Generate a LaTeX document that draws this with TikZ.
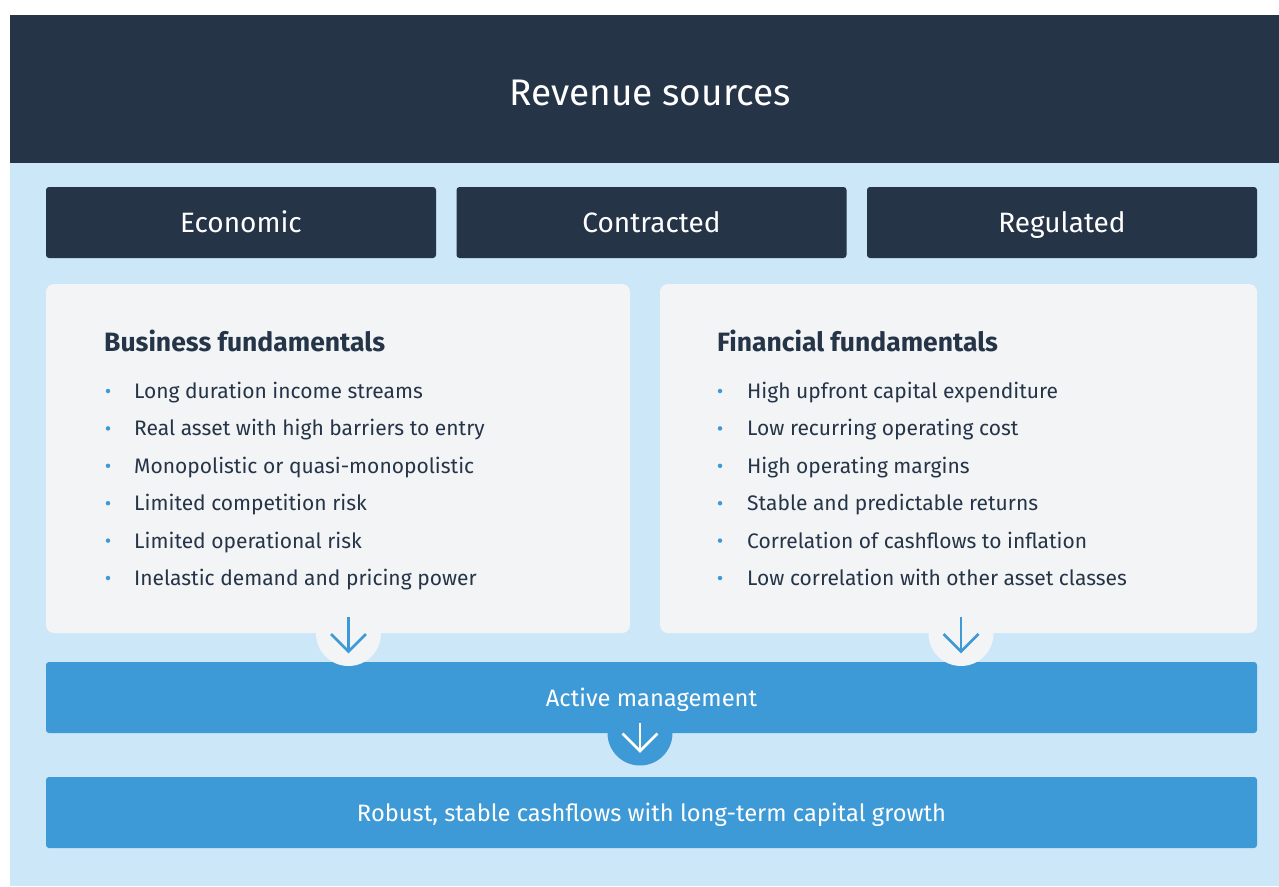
\documentclass[tikz,border=0pt]{standalone}
\usepackage{fontspec}
\setmainfont{Fira Sans}

\definecolor{navy}{HTML}{253447}
\definecolor{skyback}{HTML}{CCE7F8}
\definecolor{panelgrey}{HTML}{F2F4F6}
\definecolor{barblue}{HTML}{3D9AD6}

\tikzset{
  catbox/.style={fill=navy, rounded corners=3pt, text=white, inner sep=0pt,
    minimum width=390pt, minimum height=71pt, text height=20pt, text depth=0pt,
    font=\fontsize{28}{32}\selectfont},
  panel/.style={fill=panelgrey, rounded corners=8pt, inner sep=0pt, minimum height=349pt},
  bar/.style={fill=barblue, rounded corners=3pt, text=white, inner sep=0pt,
    minimum width=1211pt, minimum height=71pt, text height=17pt, text depth=0pt,
    font=\fontsize{23.7}{28}\selectfont},
  head/.style={anchor=west, text=navy, inner sep=0pt, text height=18pt, text depth=0pt,
    font=\fontsize{26.5}{31}\selectfont\bfseries},
  item/.style={anchor=west, text=navy, inner sep=0pt, text height=15pt, text depth=0pt,
    font=\fontsize{21}{25}\selectfont},
  dot/.style={circle, fill=barblue, inner sep=0pt, minimum size=4.5pt},
  knob/.style={circle, inner sep=0pt, minimum size=65pt},
  arrowline/.style={line width=2.6pt, line join=miter}
}

\begin{document}
\begin{tikzpicture}[x=1pt,y=-1pt]
\useasboundingbox (0,0) rectangle (1279,886);
% background and title
\fill[skyback] (10,163) rectangle (1279,886);
\fill[navy] (10,15) rectangle (1279,163);
\node[text=white, inner sep=0pt, text height=27pt, text depth=0pt,
  font=\fontsize{37}{44}\selectfont] (title) at (650,92) {Revenue sources};

% revenue categories
\node[catbox] (econ) at (241,222.5) {Economic};
\node[catbox] (contr) at (651.5,222.5) {Contracted};
\node[catbox] (regul) at (1062,222.5) {Regulated};

% fundamentals
\node[panel, minimum width=584pt] (busp) at (338,458.5) {};
\node[panel, minimum width=597pt] (finp) at (958.5,458.5) {};
\node[head] (bush) at (104,342) {Business fundamentals};
\node[head] (finh) at (717,342) {Financial fundamentals};

\foreach \txt [count=\i] in {Long duration income streams,
    Real asset with high barriers to entry,
    Monopolistic or quasi-monopolistic,
    Limited competition risk,
    Limited operational risk,
    Inelastic demand and pricing power} {
  \node[dot] (bd\i) at (108,{391+37.4*(\i-1)}) {};
  \node[item] (bi\i) at (134,{391+37.4*(\i-1)}) {\txt};
}
\foreach \txt [count=\i] in {High upfront capital expenditure,
    Low recurring operating cost,
    High operating margins,
    Stable and predictable returns,
    Correlation of cashflows to inflation,
    Low correlation with other asset classes} {
  \node[dot] (fd\i) at (720,{391+37.4*(\i-1)}) {};
  \node[item] (fi\i) at (747,{391+37.4*(\i-1)}) {\txt};
}

% outcome bars (the blue knob sits behind the bar text)
\node[knob, fill=barblue] (k3) at (640,733) {};
\node[bar] (active) at (651.5,697.5) {Active management};
\node[bar] (robust) at (651.5,812.5) {Robust, stable cashflows with long-term capital growth};

% arrows
\node[knob, fill=panelgrey] (k1) at (348.5,633.5) {};
\node[knob, fill=panelgrey] (k2) at (961,633.5) {};
\foreach \k/\c/\up/\dn in {k1/barblue/17/-18, k2/barblue/17/-18, k3/white/10/-18} {
  \draw[arrowline, \c] ([yshift=\up pt]\k.center) -- ([yshift=\dn pt]\k.center);
  \draw[arrowline, \c] ([shift={(-17.5pt,{(\dn+17.5)*1pt})}]\k.center)
    -- ([yshift=\dn pt]\k.center) -- ([shift={(17.5pt,{(\dn+17.5)*1pt})}]\k.center);
}
\end{tikzpicture}
\end{document}
